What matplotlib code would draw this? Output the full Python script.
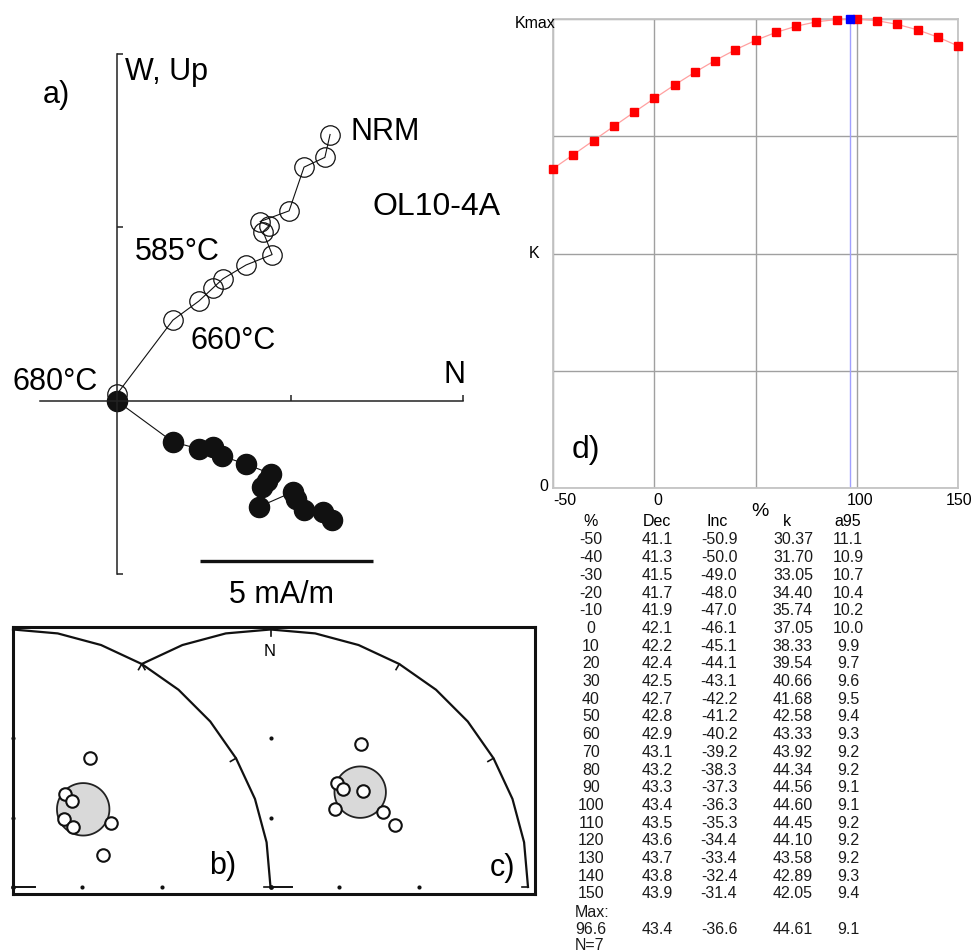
import numpy as np
import matplotlib.pyplot as plt

plt.rcParams['font.family'] = ['Liberation Sans', 'DejaVu Sans']

# --- a) Zijderveld diagram (mA/m) ---
# vertical projection (open): N, Up
vert_n = [6.14, 5.99, 5.39, 4.96, 4.12, 4.38, 4.21, 4.47, 3.72, 3.05, 2.77, 2.36, 1.61, 0.0]
vert_up = [7.68, 7.02, 6.74, 5.48, 5.17, 5.05, 4.88, 4.22, 3.92, 3.52, 3.26, 2.88, 2.33, 0.2]
# horizontal projection (filled): N, W
hor_n = [6.20, 5.94, 5.39, 5.16, 5.07, 4.09, 4.18, 4.32, 4.44, 3.72, 3.03, 2.77, 2.36, 1.61, 0.0]
hor_w = [-3.43, -3.20, -3.14, -2.82, -2.62, -3.05, -2.48, -2.31, -2.10, -1.82, -1.59, -1.33, -1.38, -1.18, 0.0]
scale_len = 5  # mA/m

# --- b), c) site directions (upper hemisphere, open symbols) ---
b_dec = [31.0, 29.4, 34.6, 36.5, 45.0, 56.7, 70.6]
b_inc = [-29.5, -44.9, -45.8, -53.5, -53.3, -41.1, -49.3]
c_dec = [32.5, 32.8, 36.7, 44.1, 39.8, 56.4, 63.6]
c_inc = [-23.4, -38.8, -39.3, -35.2, -47.1, -34.5, -33.2]

# --- d) unfolding table ---
pct = [-50, -40, -30, -20, -10, 0, 10, 20, 30, 40, 50, 60, 70, 80, 90, 100, 110, 120, 130, 140, 150]
dec = [41.1, 41.3, 41.5, 41.7, 41.9, 42.1, 42.2, 42.4, 42.5, 42.7, 42.8, 42.9, 43.1, 43.2, 43.3,
       43.4, 43.5, 43.6, 43.7, 43.8, 43.9]
inc = [-50.9, -50.0, -49.0, -48.0, -47.0, -46.1, -45.1, -44.1, -43.1, -42.2, -41.2, -40.2, -39.2,
       -38.3, -37.3, -36.3, -35.3, -34.4, -33.4, -32.4, -31.4]
kap = [30.37, 31.70, 33.05, 34.40, 35.74, 37.05, 38.33, 39.54, 40.66, 41.68, 42.58, 43.33, 43.92,
       44.34, 44.56, 44.60, 44.45, 44.10, 43.58, 42.89, 42.05]
a95 = [11.1, 10.9, 10.7, 10.4, 10.2, 10.0, 9.9, 9.7, 9.6, 9.5, 9.4, 9.3, 9.2, 9.2, 9.1, 9.1,
       9.2, 9.2, 9.2, 9.3, 9.4]
max_pct, max_dec, max_inc, max_k, max_a95 = 96.6, 43.4, -36.6, 44.61, 9.1
n_sites = 7

W, H = 971, 953
fig = plt.figure(figsize=(W / 100, H / 100), dpi=100)


def rect(x0, y0, x1, y1):
    return [x0 / W, 1 - y1 / H, (x1 - x0) / W, (y1 - y0) / H]


def txt(x, y, s, size, ha='left', va='center', **kw):
    fig.text(x / W, 1 - y / H, s, fontsize=size, ha=ha, va=va, **kw)


# ---------------- panel a ----------------
ax = fig.add_axes(rect(40, 55, 463, 575))
ax.set_xlim(-2.219, 9.971)
ax.set_ylim(-4.986, 10.0)
ax.patch.set_visible(False)
for s in ['top', 'right']:
    ax.spines[s].set_visible(False)
ax.spines['left'].set_position(('data', 0))
ax.spines['bottom'].set_position(('data', 0))
for s in ['left', 'bottom']:
    ax.spines[s].set_linewidth(1.1)
    ax.spines[s].set_color('#222222')
ax.set_xticks([5, 9.971])
ax.set_yticks([-4.986, 5, 10.0])
ax.tick_params(direction='in', length=4.5, width=1.1, color='#222222',
               labelbottom=False, labelleft=False)
ax.plot(vert_n, vert_up, '-', color='#111111', lw=0.8, marker='o', ms=14,
        mfc='none', mec='#111111', mew=0.9, clip_on=False)
ax.plot(hor_n, hor_w, '-', color='#111111', lw=0.8, marker='o', ms=14.5,
        mfc='#111111', mec='#111111', clip_on=False)
ax.plot([2.39, 2.39 + scale_len], [-4.61, -4.61], color='#111111', lw=2.4, solid_capstyle='butt')

txt(43, 95, 'a)', 22)
txt(125, 72, 'W, Up', 22)
txt(350, 132, 'NRM', 22)
txt(373, 207, 'OL10-4A', 23)
txt(135, 252, '585°C', 22)
txt(190, 341, '660°C', 22)
txt(12, 382, '680°C', 22)
txt(454, 375, 'N', 22, ha='center')
txt(281, 595, f'{scale_len} mA/m', 22, ha='center')

# ---------------- panel d ----------------
axd = fig.add_axes(rect(553, 20, 958, 489))
axd.set_xlim(-50, 150)
axd.set_ylim(0, max_k)
axd.set_xticks([-50, 0, 50, 100, 150])
axd.set_xticklabels([])
axd.set_yticks(np.linspace(0, max_k, 5))
axd.set_yticklabels([])
axd.grid(color='#a0a0a0', lw=1.0)
axd.tick_params(length=0)
for s in axd.spines.values():
    s.set_color('#c4c4c4')
    s.set_linewidth(1.3)
axd.axvline(max_pct, color='#a0a0ff', lw=1.0, zorder=2)
axd.plot(pct, kap, color='#ffa0a0', lw=0.9, marker='s', ms=6, mfc='#ff0000', mec='#ff0000',
         zorder=3, clip_on=False)
axd.plot([max_pct], [max_k], 's', ms=6, color='#0000ff', zorder=4, clip_on=False)

txt(553, 501, '-50', 11.5)
txt(658, 501, '0', 11.5, ha='center')
txt(860, 501, '100', 11.5, ha='center')
txt(959, 501, '150', 11.5, ha='center')
txt(555, 24, 'Kmax', 11.5, ha='right')
txt(539, 254, 'K', 11.5, ha='right')
txt(548, 487, '0', 11.5, ha='right')
txt(760, 511, '%', 14, ha='center')
txt(572, 450, 'd)', 23)

# table
cols = [591, 657, 719, 793, 848]
txt(591, 522, '%', 11.5, ha='center')
txt(657, 522, 'Dec', 11.5, ha='center')
txt(717, 522, 'Inc', 11.5, ha='center')
txt(787, 522, 'k', 11.5, ha='center')
txt(848, 522, 'a95', 11.5, ha='center')
for i in range(len(pct)):
    y = 540 + i * 17.7
    row = [f'{pct[i]}', f'{dec[i]:.1f}', f'{inc[i]:.1f}', f'{kap[i]:.2f}', f'{a95[i]:.1f}']
    for cx, s in zip(cols, row):
        txt(cx, y, s, 11.5, ha='center', color='#1a1a1a')
txt(575, 913, 'Max:', 11.5, color='#1a1a1a')
row = [f'{max_pct}', f'{max_dec:.1f}', f'{max_inc:.1f}', f'{max_k:.2f}', f'{max_a95:.1f}']
for cx, s in zip(cols, row):
    txt(cx, 930, s, 11.5, ha='center', color='#1a1a1a')
txt(575, 946, f'N={n_sites}', 11.5, color='#1a1a1a')

# ---------------- panels b, c (Wulff net quadrants) ----------------
R = 257.5
axn = fig.add_axes(rect(13, 628, 535, 895))
axn.set_xlim(0, 522 / R)
axn.set_ylim(-7 / R, 260 / R)
axn.set_xticks([])
axn.set_yticks([])
for s in axn.spines.values():
    s.set_linewidth(2.2)
    s.set_color('#111111')


def proj(d, i):
    d = np.radians(d)
    r = np.tan(np.radians(90 - np.abs(i)) / 2)
    return r * np.sin(d), r * np.cos(d)


def a95_circle(d0, i0, a):
    d0, i0, a = np.radians(d0), np.radians(abs(i0)), np.radians(a)
    m = np.array([np.cos(i0) * np.cos(d0), np.cos(i0) * np.sin(d0), np.sin(i0)])
    u = np.cross(m, [0, 0, 1])
    u /= np.linalg.norm(u)
    v = np.cross(m, u)
    t = np.linspace(0, 2 * np.pi, 120)
    p = np.cos(a) * m[:, None] + np.sin(a) * (np.outer(u, np.cos(t)) + np.outer(v, np.sin(t)))
    dd = np.degrees(np.arctan2(p[1], p[0]))
    ii = np.degrees(np.arcsin(p[2]))
    return proj(dd, ii)


def net(cx, az0, ticks):
    az = np.unique(np.r_[az0, np.arange(0, 90.1, 10), np.arange(-10, az0 - 0.1, -10)])
    az = az[az >= az0]
    a = np.radians(az)
    axn.plot(cx + np.sin(a), np.cos(a), color='#111111', lw=1.6, clip_on=False)
    for t in ticks:
        a = np.radians(t)
        axn.plot([cx + np.sin(a), cx + 0.975 * np.sin(a)], [np.cos(a), 0.975 * np.cos(a)],
                 color='#111111', lw=1.2)
    for inc_g in [60, 30]:
        r = np.tan(np.radians(90 - inc_g) / 2)
        axn.plot([cx, cx + r], [r, 0], 'o', ms=3, color='#111111', mew=0, clip_on=False)
    axn.plot([cx], [0], 'o', ms=3.5, color='#111111', mew=0, clip_on=False)
    axn.plot([cx, cx + 0.085], [0, 0], color='#111111', lw=1.4)
    axn.plot([cx + 1, cx + 0.975], [0, 0], color='#111111', lw=1.2)


net(0.0, 0, [30, 60])
net(1.0, -30, [-30, 0, 30, 60])

for cx, dd, ii, (md, mi, ma) in [(0.0, b_dec, b_inc, (dec[5], inc[5], a95[5])),
                                  (1.0, c_dec, c_inc, (max_dec, max_inc, max_a95))]:
    x, y = a95_circle(md, mi, ma)
    axn.fill(cx + x, y, facecolor='#d9d9d9', edgecolor='#222222', lw=1.3, zorder=3)
    x, y = proj(np.array(dd), np.array(ii))
    axn.plot(cx + x, y, 'o', ms=9, mfc='white', mec='#111111', mew=1.5, zorder=4)

txt(270, 652, 'N', 12, ha='center')
txt(209, 866, 'b)', 22)
txt(490, 868, 'c)', 22)

fig.savefig('out.png', dpi=100)
